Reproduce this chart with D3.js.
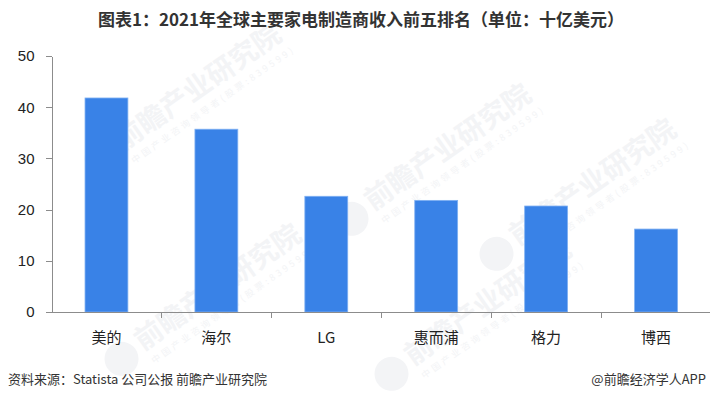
<!DOCTYPE html>
<html>
<head>
<meta charset="utf-8">
<title>2021年全球主要家电制造商收入前五排名</title>
<script src="https://d3js.org/d3.v7.min.js"></script>
<style>
  body { margin: 0; background: #fff; }
  svg { display: block; font-family: "Noto Sans CJK SC", "Noto Sans", sans-serif; }
  .axis path, .axis line { stroke: #8c8c8c; shape-rendering: crispEdges; }
  .axis text { fill: #222; }
  .y.axis text { font-family: "Liberation Sans", Arial, sans-serif; font-size: 15px; }
  .x.axis text { font-size: 15px; }
</style>
</head>
<body>
<script>
// data
var companies = ['美的', '海尔', 'LG', '惠而浦', '格力', '博西'];
var revenue = [41.8, 35.7, 22.6, 21.8, 20.7, 16.2];
var yTicks = [0, 10, 20, 30, 40, 50];

var outerWidth = 710, outerHeight = 399;
var margin = {top: 56, left: 51.5, bottom: 87, right: -1};

var svg = d3.select('body').append('svg')
            .attr('width', outerWidth)
            .attr('height', outerHeight);

// faint watermarks
var marks = [[150, 120], [170, 320], [400, 180], [545, 215], [440, 335]];
var wm = svg.append('g').attr('class', 'watermark');
marks.forEach(function(m) {
  var g = wm.append('g').attr('transform', 'translate(' + m[0] + ',' + m[1] + ') rotate(-35)');
  g.append('circle').attr('cx', -62).attr('cy', 4).attr('r', 17).attr('fill', '#f3f4f6');
  g.append('text').attr('x', -40).attr('y', 10)
   .attr('font-size', 28).attr('font-weight', 'bold').attr('fill', '#f3f4f6')
   .text('前瞻产业研究院');
  g.append('text').attr('x', -38).attr('y', 27)
   .attr('font-size', 9).attr('fill', '#f3f4f6').attr('letter-spacing', 3)
   .text('中国产业咨询领导者(股票:839599)');
});

var width = outerWidth - margin.left - margin.right;
var height = outerHeight - margin.top - margin.bottom;

var x = d3.scaleBand().domain(companies).range([margin.left, margin.left + width]);
var y = d3.scaleLinear().domain([0, 50]).range([margin.top + height, margin.top]);

// bars
var barW = x.bandwidth() * 0.39;
svg.append('g').selectAll('rect')
   .data(companies)
   .enter()
   .append('rect')
   .attr('x', function(d) { return x(d) + (x.bandwidth() - barW) / 2; })
   .attr('y', function(d, i) { return y(revenue[i]); })
   .attr('width', barW)
   .attr('height', function(d, i) { return y(0) - y(revenue[i]); })
   .attr('fill', '#3982e7')
   .attr('stroke', '#7fb0f2')
   .attr('stroke-width', 0.8);

// y axis
svg.append('g')
   .attr('class', 'y axis')
   .attr('transform', 'translate(' + margin.left + ',0)')
   .call(d3.axisLeft(y).tickValues(yTicks).tickSize(6).tickPadding(11).tickSizeOuter(0));

// x axis with ticks at band edges
var xAxis = svg.append('g')
   .attr('class', 'x axis')
   .attr('transform', 'translate(0,' + y(0) + ')');
xAxis.append('line')
   .attr('x1', margin.left).attr('x2', outerWidth)
   .attr('y1', 0).attr('y2', 0);
xAxis.selectAll('line.tick')
   .data(companies)
   .enter()
   .append('line')
   .attr('class', 'tick')
   .attr('x1', function(d) { return x(d) + x.bandwidth(); })
   .attr('x2', function(d) { return x(d) + x.bandwidth(); })
   .attr('y1', 0).attr('y2', 6);
xAxis.selectAll('text')
   .data(companies)
   .enter()
   .append('text')
   .attr('x', function(d) { return x(d) + x.bandwidth() / 2; })
   .attr('y', 31)
   .style('text-anchor', 'middle')
   .text(function(d) { return d; });

// title
svg.append('text')
   .attr('x', 361)
   .attr('y', 26)
   .style('text-anchor', 'middle')
   .style('font-size', '17px')
   .style('font-weight', 'bold')
   .attr('fill', '#333')
   .text('图表1：2021年全球主要家电制造商收入前五排名（单位：十亿美元）');

// source and credit
svg.append('text')
   .attr('x', 8)
   .attr('y', 384)
   .style('font-size', '13px')
   .attr('fill', '#333')
   .text('资料来源：Statista 公司公报 前瞻产业研究院');

svg.append('text')
   .attr('x', 706)
   .attr('y', 384)
   .style('font-size', '13px')
   .style('text-anchor', 'end')
   .attr('fill', '#333')
   .text('@前瞻经济学人APP');
</script>
</body>
</html>
